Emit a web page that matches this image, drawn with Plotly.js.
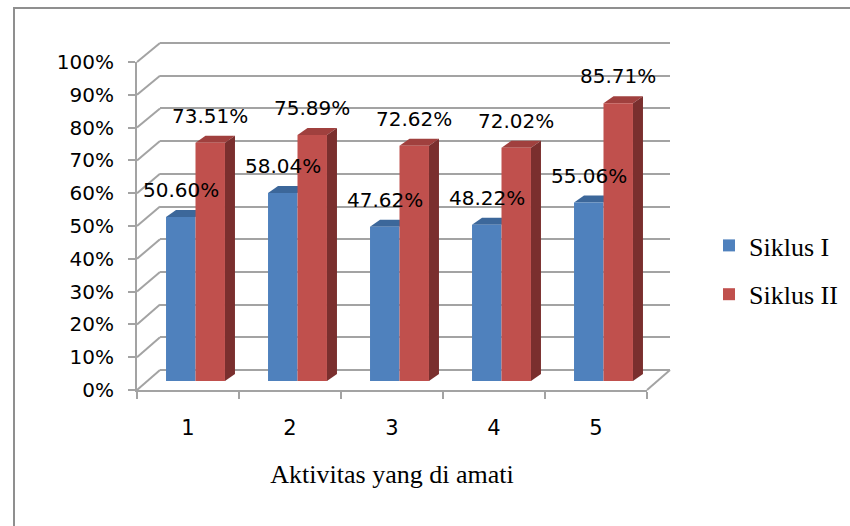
<!DOCTYPE html>
<html>
<head>
<meta charset="utf-8">
<script src="https://cdn.plot.ly/plotly-3.0.1.min.js"></script>
<style>
  html, body { margin: 0; padding: 0; background: #ffffff; }
  #chart { width: 850px; height: 526px; }
</style>
</head>
<body>
<div id="chart"></div>
<script>
// ---- data ----
const categories = ['1', '2', '3', '4', '5'];
const siklusI = [0.5060, 0.5804, 0.4762, 0.4822, 0.5506];
const siklusII = [0.7351, 0.7589, 0.7262, 0.7202, 0.8571];
const seriesNames = ['Siklus I', 'Siklus II'];
const yTickVals = [0, 0.1, 0.2, 0.3, 0.4, 0.5, 0.6, 0.7, 0.8, 0.9, 1.0];
const xTitle = 'Aktivitas yang di amati';

// ---- styling / geometry ----
const FW = 850, FH = 526;
const px = v => v / FW;            // pixel x -> paper
const py = v => 1 - v / FH;        // pixel y -> paper
const BLUE = '#4f81bd', BLUE_TOP = '#3c679a';
const RED = '#c0504d', RED_TOP = '#a0403e', RED_SIDE = '#7a2f2e';
const GRID = '#a3a3a3';
const BW = 0.289;     // bar width (category units)
const DX = 0.098;     // depth in x (category units)
const DY = 0.0216;    // depth in y (value units)

// front (label) axis: 0 -> 390px, 1 -> 62px ; back wall: 0 -> 370px, 1 -> 43px
const frontY = v => 390 - 328 * v;
const backY = v => 370 - 327 * v;

const xPos = categories.map((c, i) => i + 1);

const traces = [
  {
    type: 'scatter', mode: 'markers', x: xPos, y: categories.map(() => null),
    xaxis: 'x', yaxis: 'y', showlegend: false, hoverinfo: 'skip'
  },
  {
    type: 'bar', name: seriesNames[0], x: xPos, y: siklusI,
    xaxis: 'x2', yaxis: 'y2', width: BW, offset: -BW,
    marker: { color: BLUE, line: { width: 0 } },
    legendgroup: 'a', hoverinfo: 'skip'
  },
  {
    type: 'bar', name: seriesNames[1], x: xPos, y: siklusII,
    xaxis: 'x2', yaxis: 'y2', width: BW, offset: 0,
    marker: { color: RED, line: { width: 0 } },
    legendgroup: 'b', hoverinfo: 'skip'
  },
  {
    type: 'scatter', mode: 'markers', x: categories, y: categories.map(() => null),
    xaxis: 'x3', yaxis: 'y3', showlegend: false, hoverinfo: 'skip'
  }
];

const shapes = [];
// outer border
shapes.push({ type: 'rect', xref: 'paper', yref: 'paper', x0: px(14), x1: 1.2, y0: -0.2, y1: py(8),
  line: { color: '#8f8f8f', width: 2 }, fillcolor: 'rgba(0,0,0,0)', layer: 'below' });
// slanted side-wall lines from the front axis to the back wall
yTickVals.forEach(v => {
  shapes.push({ type: 'line', xref: 'paper', yref: 'paper',
    x0: px(137), y0: py(frontY(v)), x1: px(160), y1: py(backY(v)),
    line: { color: GRID, width: 2 }, layer: 'below' });
});
// floor right edge
shapes.push({ type: 'line', xref: 'paper', yref: 'paper',
  x0: px(647), y0: py(frontY(0)), x1: px(670), y1: py(backY(0)),
  line: { color: GRID, width: 2 }, layer: 'below' });

// 3D faces of the bars (data coordinates on x2/y2)
function face(pathPts, color) {
  const d = 'M' + pathPts.map(p => p[0] + ',' + p[1]).join(' L') + ' Z';
  shapes.push({ type: 'path', xref: 'x2', yref: 'y2', path: d,
    fillcolor: color, line: { width: 0 }, layer: 'between' });
}
xPos.forEach((x, i) => {
  const b = siklusI[i], r = siklusII[i];
  face([[x - BW, b], [x, b], [x + DX, b + DY], [x - BW + DX, b + DY]], BLUE_TOP);
  face([[x, r], [x + BW, r], [x + BW + DX, r + DY], [x + DX, r + DY]], RED_TOP);
  face([[x + BW, 0], [x + BW + DX, DY], [x + BW + DX, r + DY], [x + BW, r]], RED_SIDE);
});

// value labels
const annotations = [];
const labelFont = { family: 'DejaVu Sans', size: 20, color: '#000' };
xPos.forEach((x, i) => {
  annotations.push({ xref: 'x2', yref: 'y2', x: x - BW / 2, y: siklusI[i], yshift: 27,
    text: (siklusI[i] * 100).toFixed(2) + '%', showarrow: false, font: labelFont,
    xanchor: 'center', yanchor: 'middle' });
  annotations.push({ xref: 'x2', yref: 'y2', x: x + BW / 2, y: siklusII[i], yshift: 27,
    text: (siklusII[i] * 100).toFixed(2) + '%', showarrow: false, font: labelFont,
    xanchor: 'center', yanchor: 'middle' });
});

const layout = {
  width: FW, height: FH,
  margin: { l: 0, r: 0, t: 0, b: 0, pad: 0 },
  paper_bgcolor: '#ffffff',
  plot_bgcolor: 'rgba(0,0,0,0)',
  hovermode: false,
  barmode: 'overlay',
  showlegend: true,
  legend: {
    x: px(709), xanchor: 'left', y: py(270), yanchor: 'middle',
    font: { family: 'Liberation Serif', size: 26, color: '#000' },
    bgcolor: 'rgba(0,0,0,0)', traceorder: 'grouped', tracegroupgap: 12
  },
  // back wall grid
  xaxis: { domain: [px(160), px(670)], range: [0.5, 5.5], anchor: 'y', showticklabels: false, ticks: '',
    showline: false, showgrid: false, zeroline: false, fixedrange: true },
  yaxis: {
    domain: [py(370 + 0.01 * 327), py(43 - 0.01 * 327)], range: [-0.01, 1.01], anchor: 'x',
    tickvals: yTickVals, showticklabels: false, ticks: '', showline: false,
    showgrid: true, gridcolor: GRID, gridwidth: 2, zeroline: false, fixedrange: true
  },
  // bars
  xaxis2: { domain: [px(144.5), px(654.5)], range: [0.5, 5.5], anchor: 'y2', visible: false, fixedrange: true },
  yaxis2: { domain: [py(381), py(57)], range: [0, 1], anchor: 'x2', visible: false, fixedrange: true },
  // front axes with labels
  xaxis3: {
    domain: [px(137), px(647)], anchor: 'y3', type: 'category', categoryarray: categories,
    range: [-0.5, 4.5], tickson: 'boundaries', ticks: 'outside', ticklen: 7, tickwidth: 2,
    tickcolor: GRID, showline: true, linecolor: GRID, linewidth: 2, showgrid: false, zeroline: false,
    tickfont: { family: 'DejaVu Sans', size: 21, color: '#000' }, ticklabelstandoff: 18,
    title: { text: xTitle, font: { family: 'Liberation Serif', size: 26, color: '#000' }, standoff: 26 },
    fixedrange: true
  },
  yaxis3: {
    domain: [py(390), py(62)], anchor: 'x3', range: [0, 1], tickvals: yTickVals, tickformat: '.0%',
    ticks: 'outside', ticklen: 7, tickwidth: 2, tickcolor: GRID, showline: true, linecolor: GRID,
    linewidth: 2, showgrid: false, zeroline: false, ticklabelstandoff: 10,
    tickfont: { family: 'DejaVu Sans', size: 20, color: '#000' }, fixedrange: true
  },
  shapes: shapes,
  annotations: annotations
};

Plotly.newPlot('chart', traces, layout, { displayModeBar: false, staticPlot: true });
</script>
</body>
</html>
